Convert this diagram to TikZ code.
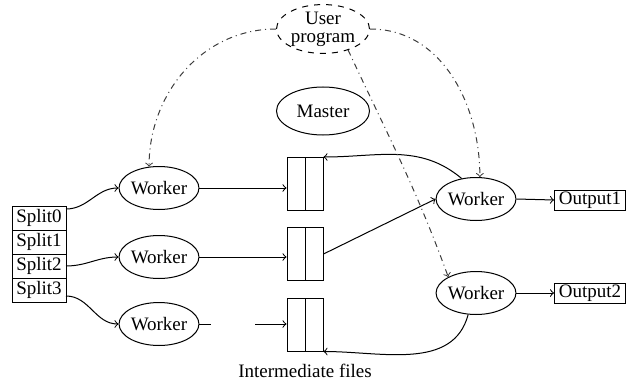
\documentclass[tikz,border=0pt]{standalone}
\usepackage{fontspec}
\setmainfont{Liberation Serif}
\usepackage{tikz}
\usetikzlibrary{arrows,positioning,shapes.geometric}
\definecolor{lineGray}{RGB}{60, 60, 60}
\def\workW{39pt}
\def\workH{21.5pt}
\tikzset{>=to}
\tikzset{
  worker/.style={ellipse, draw, minimum width=\workW, minimum height=\workH, inner sep=0pt},
  splitbox/.style={rectangle, draw, minimum width=27pt, minimum height=12pt, inner sep=0pt, outer sep=0pt},
  outbox/.style={rectangle, draw, minimum width=35.5pt, minimum height=10pt, inner sep=0.5pt},
  filebox/.style={rectangle, draw, minimum width=18pt, minimum height=26.5pt, inner sep=0pt,
    path picture={\draw (path picture bounding box.north) -- (path picture bounding box.south);}},
  fork/.style={->, dash dot, lineGray}
}

\begin{document}
\begin{tikzpicture}[x=0.5pt, y=-0.5pt, line width=0.5pt,
  every node/.style={font=\fontsize{9.5}{9}\selectfont}]
  \useasboundingbox (0, 0) rectangle (630, 385);

  \node[ellipse, draw, dashed, align=center, minimum width=46.5pt, minimum height=24pt, inner sep=0pt] (up) at (323, 29){User\\program};
  \node[ellipse, draw, minimum width=46.5pt, minimum height=24pt, inner sep=0pt] (master) at (323, 111){Master};

  \node[splitbox] (s0) at (39, 218){Split0};
  \node[splitbox, below=0pt of s0] (s1){Split1};
  \node[splitbox, below=0pt of s1] (s2){Split2};
  \node[splitbox, below=0pt of s2] (s3){Split3};

  \node[worker] (w1) at (159, 188){Worker};
  \node[worker] (w2) at (159, 257){Worker};
  \node[worker] (w3) at (159, 324){Worker};

  \node[filebox] (f1) at (305, 184){};
  \node[filebox] (f2) at (305, 254){};
  \node[filebox] (f3) at (305, 324.5){};
  \node[below=2.5pt of f3] (inter){Intermediate files};

  \node[worker] (r1) at (476, 199){Worker};
  \node[worker] (r2) at (476, 293){Worker};
  \node[outbox] (o1) at (590, 200){Output1};
  \node[outbox] (o2) at (590, 293){Output2};

  % splits into the map workers
  \draw[->] ([yshift=-1.5pt]s0.north east) to[out=0, in=180] (w1.west);
  \draw[->] (s2.east) to[out=0, in=180] (w2.west);
  \draw[->] ([yshift=-3pt]s3.east) to[out=0, in=180] (w3.west);

  % map output to the intermediate files
  \draw[->] (w1.east) -- (f1.west |- w1.east);
  \draw[->] (w2.east) -- (f2.west |- w2.east);
  \draw[->, dash pattern=on 6pt off 22pt on 40pt] (w3.east) -- (f3.west |- w3.east);

  % reduce side
  \draw[->] (r1.125) to[out=140, in=0] (f1.north east);
  \draw[->] (f2.east) -- (r1.west);
  \draw[->] (r2.250) to[out=-105, in=0] (f3.south east);
  \draw[->] (r1.east) -- (o1.west);
  \draw[->] (r2.east) -- (o2.west);

  % forks from the user program
  \draw[fork] (up.west) to[out=180, in=90] (w1.115);
  \draw[fork] (up.east) to[out=0, in=90] (r1.80);
  \draw[fork] (up.-40) to[out=-65, in=110] (r2.150);
\end{tikzpicture}
\end{document}
